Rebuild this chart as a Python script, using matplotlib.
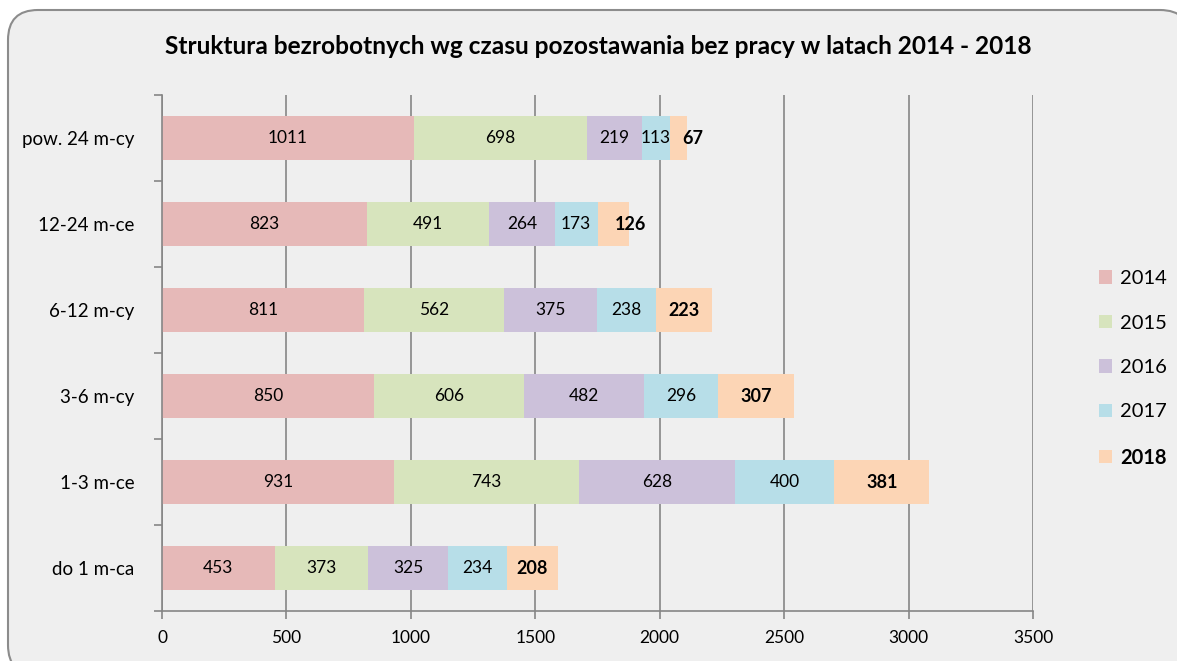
import numpy as np
import matplotlib
matplotlib.use("Agg")
import matplotlib.pyplot as plt
from matplotlib.patches import FancyBboxPatch
from matplotlib.transforms import IdentityTransform

categories = ["do 1 m-ca", "1-3 m-ce", "3-6 m-cy", "6-12 m-cy", "12-24 m-ce", "pow. 24 m-cy"]
years = ["2014", "2015", "2016", "2017", "2018"]
v2014 = [453, 931, 850, 811, 823, 1011]
v2015 = [373, 743, 606, 562, 491, 698]
v2016 = [325, 628, 482, 375, 264, 219]
v2017 = [234, 400, 296, 238, 173, 113]
v2018 = [208, 381, 307, 223, 126, 67]
series = [v2014, v2015, v2016, v2017, v2018]
colors = ["#e6b9b8", "#d7e4bd", "#ccc1da", "#b7dee8", "#fcd5b5"]
xticks = [0, 500, 1000, 1500, 2000, 2500, 3000, 3500]
title = "Struktura bezrobotnych wg czasu pozostawania bez pracy w latach 2014 - 2018"

plt.rcParams['font.family'] = ['Lato', 'DejaVu Sans']

W, H = 1177, 661
fig = plt.figure(figsize=(W / 100, H / 100), dpi=100)
fig.patch.set_facecolor("white")

# rounded border with light grey background
box = FancyBboxPatch((8, -14), 1182, 665, boxstyle="round,pad=0,rounding_size=30",
                     transform=IdentityTransform(), facecolor="#efefef", edgecolor="#8c8c8c",
                     linewidth=1.5, zorder=-5)
fig.patches.append(box)

ax = fig.add_axes([162 / W, 1 - 611 / H, 871 / W, 516 / H])
ax.set_facecolor("none")
ax.set_zorder(2)

y = np.arange(len(categories))
left = np.zeros(len(categories))
for i, (vals, c) in enumerate(zip(series, colors)):
    vals = np.array(vals, dtype=float)
    ax.barh(y, vals, left=left, height=0.51, color=c, label=years[i], zorder=2)
    for j, v in enumerate(vals):
        bold = (i == 4)
        if bold and v < 150:
            ax.text(left[j] + v * 0.3 + 30, y[j], f"{int(v)}", ha="left", va="center",
                    fontsize=13, fontweight="bold", zorder=3)
        else:
            ax.text(left[j] + v / 2, y[j], f"{int(v)}", ha="center", va="center",
                    fontsize=13 if bold else 12.5, fontweight="bold" if bold else "normal", zorder=3)
    left += vals

ax.set_xlim(0, 3500)
ax.set_ylim(-0.5, len(categories) - 0.5)
ax.set_xticks(xticks)
ax.set_xticklabels([str(t) for t in xticks], fontsize=12.5)
ax.set_yticks(y)
ax.set_yticklabels(categories, fontsize=13.5)
ax.set_yticks(np.arange(-0.5, len(categories), 1.0), minor=True)
ax.tick_params(axis="y", which="major", length=0, pad=20)
ax.tick_params(axis="y", which="minor", length=6, color="#868686", width=1.2)
ax.tick_params(axis="x", length=6, color="#868686", width=1.2, pad=8)
ax.xaxis.grid(True, color="#868686", linewidth=1.2, zorder=1)
ax.set_axisbelow(True)
for s in ["top", "right"]:
    ax.spines[s].set_visible(False)
for s in ["left", "bottom"]:
    ax.spines[s].set_color("#868686")
    ax.spines[s].set_linewidth(1.2)

fig.text(598 / W, 1 - 47 / H, title, ha="center", va="center", fontsize=17.6, fontweight="bold")

handles, labels = ax.get_legend_handles_labels()
leg = fig.legend(handles, labels, loc="center left", bbox_to_anchor=(1091 / W, 1 - 369 / H),
                 frameon=False, fontsize=14.5, handlelength=0.65, handleheight=0.65,
                 handletextpad=0.4, labelspacing=1.36, borderaxespad=0)
for t in leg.get_texts():
    if t.get_text() == "2018":
        t.set_fontweight("bold")

fig.savefig("out.png", dpi=100)
